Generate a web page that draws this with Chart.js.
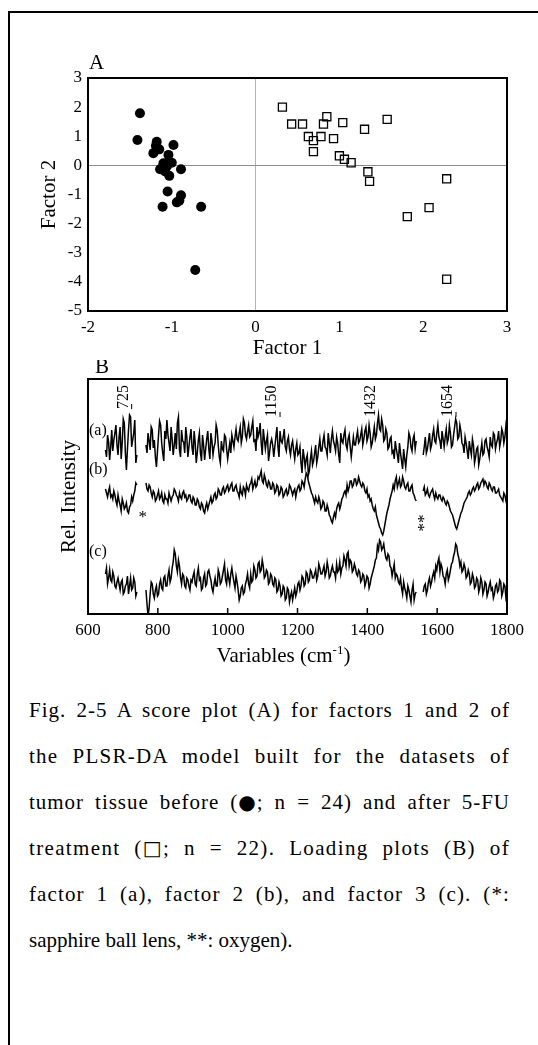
<!DOCTYPE html>
<html><head><meta charset="utf-8">
<script src="https://cdn.jsdelivr.net/npm/chart.js@4.4.0/dist/chart.umd.min.js"></script>
<style>
html,body{margin:0;padding:0;background:#fff;}
body{width:538px;height:1045px;position:relative;overflow:hidden;font-family:"Liberation Serif","Times New Roman",serif;color:#000;}
#frame{position:absolute;left:8px;top:11px;width:700px;height:1200px;border-left:2px solid #000;border-top:2px solid #000;}
#cA{position:absolute;left:0;top:0;}
#cB{position:absolute;left:0;top:360px;}
#cap{position:absolute;left:29px;top:687px;width:481px;font-size:21px;line-height:46px;}
#cap div{text-align:justify;text-align-last:justify;white-space:nowrap;}
#cap div.last{text-align-last:left;}
.sym{display:inline-block;font-family:"DejaVu Sans",sans-serif;font-size:20px;}
</style></head>
<body>
<div id="frame"></div>
<canvas id="cA" width="538" height="360"></canvas>
<canvas id="cB" width="538" height="320"></canvas>
<div id="cap">
<div>Fig. 2-5 A score plot (A) for factors 1 and 2 of</div>
<div>the PLSR-DA model built for the datasets of</div>
<div>tumor tissue before (<span class="sym">●</span>; n = 24) and after 5-FU</div>
<div>treatment (<span class="sym">□</span>; n = 22). Loading plots (B) of</div>
<div>factor 1 (a), factor 2 (b), and factor 3 (c). (*:</div>
<div class="last">sapphire ball lens, **: oxygen).</div>
</div>
<script>
// ---------- Panel A: score plot ----------
const beforeF1 = [-1.38,-1.41,-1.18,-1.19,-0.98,-1.15,-1.22,-1.04,-1.00,-1.10,-1.06,-1.14,-0.89,-1.08,-1.03,-1.11,-1.05,-0.89,-0.91,-0.94,-1.11,-0.65,-0.72,-1.07];
const beforeF2 = [1.79,0.87,0.81,0.67,0.70,0.55,0.42,0.36,0.09,0.07,-0.04,-0.13,-0.13,-0.21,-0.36,-0.08,-0.90,-1.03,-1.21,-1.27,-1.42,-1.42,-3.59,0.05];
const afterF1 = [0.32,0.43,0.56,0.81,0.85,1.04,1.30,1.57,0.63,0.69,0.78,0.93,0.69,1.00,1.06,1.14,1.34,1.36,2.28,2.07,1.81,2.28];
const afterF2 = [2.00,1.42,1.42,1.42,1.67,1.47,1.24,1.58,0.99,0.85,0.99,0.92,0.47,0.33,0.21,0.09,-0.22,-0.55,-0.46,-1.45,-1.76,-3.91];
const factor1Range = [-2, 3];
const factor2Range = [-5, 3];

// ---------- Panel B: loadings (sampled every 3 cm-1) ----------
const wavenumberSegments = [[650,740],[766,1540],[1560,1800]];
const wavenumberStep = 3;
const variableTicks = [600,800,1000,1200,1400,1600,1800];
const peakLabels = [725,1150,1432,1654];
const asteriskAt = [757,1556];
const asteriskText = ['*','**'];
const traceNames = ['(a)','(b)','(c)'];

const loading1 = [
-5,-12,10,3,-15,-2,15,-6,5,12,20,0,-10,8,18,-14,2,26,22,-8,-25,-4,15,30,28,-2,5,12,25,-18,-10,
0,-8,12,4,-5,18,15,-3,5,-12,-22,-6,10,24,20,2,-8,-16,14,6,
25,10,2,-6,18,6,-10,0,12,-4,22,28,-5,-12,15,4,3,-8,18,8,
-12,-2,8,16,-3,-10,14,2,-18,-8,5,12,-8,-16,10,0,-15,-4,6,14,
-4,-14,12,4,-10,-2,2,20,15,0,-12,-18,4,-4,-6,10,8,-4,-14,-6,
2,-8,10,4,-2,8,16,6,4,12,18,2,8,26,22,10,6,14,20,8,
10,18,24,4,5,-6,18,8,12,22,2,-10,16,6,-4,4,10,-16,-8,2,
6,0,-12,-2,8,18,-2,-12,14,4,2,8,16,-2,-6,4,8,-4,-10,0,
4,-6,-14,-4,2,-10,-8,-2,-18,-28,-4,-12,-22,-14,-10,-30,-26,-14,-6,-20,
-16,-8,0,-18,-12,-2,6,-6,-6,4,10,-2,-4,-10,12,2,-8,6,14,4,
0,-6,8,2,-10,-18,12,4,2,10,15,0,-4,6,10,-2,-12,-2,8,0,
0,8,14,2,4,10,16,0,6,14,18,4,8,20,12,-2,2,10,18,6,
10,22,30,16,14,26,20,4,6,16,12,-4,-2,6,8,-8,-6,-14,4,-4,
-10,-18,2,-8,-16,-24,-4,-14,-22,-10,-2,12,8,-2,-6,6,10,-4,4,
-10,-2,8,-8,-4,4,12,-4,0,10,16,4,2,12,20,8,4,-4,14,6,
-2,8,16,2,6,20,12,-2,0,10,18,26,22,6,8,20,14,2,0,-8,
8,2,-6,-14,4,-4,-10,6,0,-18,-12,-4,-2,-20,-14,-6,2,-10,-8,4,
6,-2,-6,-12,8,0,-2,12,10,-4,2,6,14,-2,4,16,12,2,8,20,
14];
const loading2 = [
4,0,-4,2,6,-4,-2,-6,2,-2,-8,-12,-2,-8,-12,-18,-6,-10,-16,-14,-10,-18,-20,-14,-12,-4,-8,-2,2,10,8,
10,4,2,8,6,0,-4,2,0,-8,-6,-2,2,-6,-4,0,-8,-10,-2,-6,
-6,-10,0,-4,-8,-4,-2,4,2,-2,-4,-8,0,-4,-6,0,2,-4,-2,-8,
-6,-2,-2,-8,-10,-4,-6,-12,-12,-6,-8,-14,-16,-10,-12,-18,-20,-14,-10,-16,
-12,-8,-4,-10,-8,-2,0,-6,-4,4,2,-2,-2,4,6,0,2,6,8,2,
4,8,10,2,2,6,8,2,0,-4,6,0,-2,6,4,-2,8,4,2,8,
10,14,4,8,12,6,8,16,14,18,22,12,10,18,14,8,6,12,10,4,
4,10,8,0,2,8,6,-2,0,6,4,-4,-2,2,4,-2,0,8,6,2,
-2,2,4,-4,2,6,8,2,4,12,10,6,14,20,18,12,8,4,0,-2,
-6,-10,-4,-8,-10,-4,-8,-16,-14,-8,-10,-18,-18,-12,-16,-22,-24,-28,-30,-24,
-20,-24,-16,-12,-10,-16,-12,-6,-4,0,2,-2,8,2,6,12,12,6,8,14,
14,8,10,16,12,8,6,10,8,2,0,4,-4,-2,-8,-6,-12,-16,-18,-14,
-22,-26,-30,-34,-36,-40,-42,-38,-32,-26,-20,-16,-12,-6,-2,2,8,4,12,16,
6,10,14,6,8,16,12,6,4,8,10,2,2,6,8,0,-2,-6,-8,
2,6,-2,0,4,-2,-4,0,2,4,-2,-6,0,-4,-6,-2,-2,-6,-8,-4,
-6,-10,-12,-8,-10,-14,-18,-20,-22,-26,-30,-34,-36,-32,-28,-24,-20,-18,-14,-10,
-8,-6,-4,0,2,-2,0,4,6,2,4,8,10,4,6,10,12,14,8,12,
10,6,4,10,8,4,2,6,6,0,0,2,4,-2,-4,-6,-8,0,-2,-8,
-12];
const loading3 = [
6,12,-4,2,10,0,-2,8,4,-6,-8,-2,2,-4,-10,-2,0,-14,-12,-6,-4,4,-14,-6,2,-10,-8,2,-2,-16,-12,
-10,-24,-36,-28,-14,-2,-4,-14,-18,-10,-6,-16,-14,-4,0,-8,-10,2,4,-6,
-6,4,10,-2,2,12,18,30,26,14,8,20,14,2,-4,6,4,-6,-8,2,
0,-6,-10,0,-2,4,8,-4,-6,6,12,0,2,-10,-8,2,6,-6,-4,8,
10,4,0,-8,-12,-4,2,-6,-6,10,6,-4,-2,4,10,16,0,-4,8,2,
-4,6,12,4,-2,-8,4,-2,-10,-20,-16,-8,-6,-14,-12,-4,0,6,-4,-8,
6,-2,0,14,10,2,4,16,18,8,10,20,14,2,4,10,8,-4,-2,6,
4,-4,-6,2,0,-12,-10,-2,-6,-16,-14,-6,-8,-20,-18,-8,-10,-22,-16,-12,
-20,-14,-8,-16,-12,-4,-2,-10,-6,4,2,-6,-4,8,6,-2,0,10,8,2,
2,6,10,0,4,16,12,6,6,10,14,4,8,18,12,2,4,10,14,8,
8,2,16,8,10,18,6,12,14,24,20,14,26,28,14,20,18,8,10,16,
12,6,4,10,8,-2,0,6,4,-6,-2,4,2,-8,-4,2,6,10,14,20,
22,34,30,40,38,30,32,36,28,22,20,26,24,14,12,4,10,16,2,6,
4,-2,-4,2,-8,-14,-2,-8,-12,-18,-6,-10,-16,-22,-10,-4,-20,-14,-12,
-12,-6,-4,-14,-10,-2,2,-6,-2,4,8,2,14,10,18,22,8,16,12,4,
2,-4,6,10,0,4,10,16,18,24,28,36,34,26,22,14,18,8,10,16,
12,2,4,10,6,-4,-2,6,2,-8,-6,2,0,-12,-8,2,-2,-14,-10,-2,
-4,-16,-12,-6,-2,-10,-8,-18,-14,-6,-4,-12,-10,0,-2,-16,-12,-4,-6,-18,
-14];

// ---------- styling ----------
const FONT = '"Liberation Serif","Times New Roman",serif';
const FAM = 'Liberation Serif';
Chart.defaults.font.family = FAM;
Chart.defaults.color = '#000';
const traceBaselines = [169, 121, 34];   // vertical stacking offsets (arbitrary units)
const intensityRange = [0, 235];

function toPoints(xs, ys){ return xs.map((x,i)=>({x:x, y:ys[i]})); }
function buildTrace(vals, offset){
  const pts = []; let i = 0;
  wavenumberSegments.forEach((s, si) => {
    for (let w = s[0]; w <= s[1]; w += wavenumberStep) { pts.push({x:w, y: vals[i++] + offset}); }
    if (si < wavenumberSegments.length - 1) pts.push({x:(s[1] + wavenumberSegments[si+1][0]) / 2, y:null});
  });
  return pts;
}
const plain = v => String(v);

const boxPlugin = {
  id:'box',
  afterDatasetsDraw(chart){
    const {ctx, chartArea:a} = chart;
    ctx.save(); ctx.strokeStyle = '#000'; ctx.lineWidth = 2;
    ctx.strokeRect(a.left, a.top, a.right - a.left, a.bottom - a.top);
    ctx.restore();
  }
};

const annotA = {
  id:'annotA',
  afterDraw(chart){
    const {ctx, chartArea:a} = chart;
    ctx.save(); ctx.fillStyle = '#000';
    ctx.font = '21px ' + FONT; ctx.textAlign = 'left'; ctx.textBaseline = 'alphabetic';
    ctx.fillText('A', a.left + 1, a.top - 9);
    ctx.textAlign = 'center'; ctx.textBaseline = 'middle';
    ctx.fillText('Factor 1', (a.left + a.right) / 2 - 10, a.bottom + 37);
    ctx.restore();
  }
};

new Chart(document.getElementById('cA'), {
  type:'scatter',
  data:{datasets:[
    {data: toPoints(beforeF1, beforeF2), pointStyle:'circle', pointRadius:5, backgroundColor:'#000', borderColor:'#000', borderWidth:0},
    {data: toPoints(afterF1, afterF2), pointStyle:'rect', pointRadius:5.7, backgroundColor:'rgba(0,0,0,0)', borderColor:'#000', borderWidth:1.3}
  ]},
  options:{
    responsive:false, animation:false, devicePixelRatio:1,
    layout:{padding:{left:0, top:78, right:31, bottom:0}},
    plugins:{legend:{display:false}, tooltip:{enabled:false}},
    scales:{
      x:{type:'linear', min:factor1Range[0], max:factor1Range[1],
        afterFit(s){ s.height = 49; },
        ticks:{stepSize:1, font:{family:FAM, size:17}, padding:6, color:'#000', callback:plain},
        grid:{drawTicks:false, lineWidth:1, color:c => (c.tick && c.tick.value === 0) ? '#b4b4b4' : 'rgba(0,0,0,0)'},
        border:{display:false}},
      y:{type:'linear', min:factor2Range[0], max:factor2Range[1],
        afterFit(s){ s.width = 88; },
        ticks:{stepSize:1, font:{family:FAM, size:17}, padding:6, color:'#000', callback:plain},
        grid:{drawTicks:false, lineWidth:1, color:c => (c.tick && c.tick.value === 0) ? '#8c8c8c' : 'rgba(0,0,0,0)'},
        border:{display:false},
        title:{display:true, text:'Factor 2', font:{family:FAM, size:21}, padding:{top:37, bottom:0}, color:'#000'}}
    }
  },
  plugins:[boxPlugin, annotA]
});

const annotB = {
  id:'annotB',
  afterDraw(chart){
    const {ctx, chartArea:a} = chart;
    const xs = chart.scales.x;
    ctx.save(); ctx.fillStyle = '#000'; ctx.strokeStyle = '#000';
    ctx.lineWidth = 1.5;
    variableTicks.forEach(v => {
      const p = xs.getPixelForValue(v);
      ctx.beginPath(); ctx.moveTo(p, a.bottom); ctx.lineTo(p, a.bottom - 6); ctx.stroke();
    });
    ctx.font = '21px ' + FONT; ctx.textAlign = 'left'; ctx.textBaseline = 'alphabetic';
    ctx.fillText('B', a.left + 7, a.top - 6);
    ctx.font = '16px ' + FONT;
    const bottoms = [30, 38, 38, 38];
    peakLabels.forEach((v, i) => {
      const p = xs.getPixelForValue(v);
      const yb = a.top + bottoms[i];
      ctx.save(); ctx.translate(p - 4, yb); ctx.rotate(-Math.PI / 2);
      ctx.textAlign = 'left'; ctx.textBaseline = 'alphabetic';
      ctx.fillText(String(v), 0, 0); ctx.restore();
      ctx.lineWidth = 1;
      ctx.beginPath(); ctx.moveTo(p, yb - 5); ctx.lineTo(p, yb); ctx.stroke();
    });
    ctx.textAlign = 'left'; ctx.textBaseline = 'middle';
    const ly = [52, 91, 173];
    traceNames.forEach((t, i) => ctx.fillText(t, a.left + 1, a.top + ly[i]));
    ctx.font = '17px ' + FONT;
    asteriskAt.forEach((v, i) => {
      const p = xs.getPixelForValue(v);
      if (asteriskText[i].length === 1) {
        ctx.textAlign = 'center'; ctx.textBaseline = 'alphabetic';
        ctx.fillText(asteriskText[i], p, a.top + 143);
      } else {
        ctx.save(); ctx.translate(p + 3, a.top + 144); ctx.rotate(-Math.PI / 2);
        ctx.textAlign = 'center'; ctx.textBaseline = 'middle';
        ctx.fillText(asteriskText[i], 0, 0); ctx.restore();
      }
    });
    const main = 'Variables (cm', sup = '-1', close = ')';
    ctx.font = '21px ' + FONT; const w1 = ctx.measureText(main).width, w3 = ctx.measureText(close).width;
    ctx.font = '13px ' + FONT; const w2 = ctx.measureText(sup).width;
    const total = w1 + w2 + w3;
    let x0 = (a.left + a.right) / 2 - 14 - total / 2;
    const yBase = a.bottom + 48;
    ctx.textAlign = 'left'; ctx.textBaseline = 'alphabetic';
    ctx.font = '21px ' + FONT; ctx.fillText(main, x0, yBase);
    ctx.font = '13px ' + FONT; ctx.fillText(sup, x0 + w1, yBase - 8);
    ctx.font = '21px ' + FONT; ctx.fillText(close, x0 + w1 + w2, yBase);
    ctx.restore();
  }
};

const traceStyle = {borderColor:'#000', borderWidth:1.5, pointRadius:0, spanGaps:false, tension:0, fill:false};
new Chart(document.getElementById('cB'), {
  type:'line',
  data:{datasets:[
    Object.assign({data: buildTrace(loading1, traceBaselines[0])}, traceStyle),
    Object.assign({data: buildTrace(loading2, traceBaselines[1])}, traceStyle),
    Object.assign({data: buildTrace(loading3, traceBaselines[2])}, traceStyle)
  ]},
  options:{
    responsive:false, animation:false, devicePixelRatio:1,
    layout:{padding:{left:0, top:19, right:31, bottom:0}},
    plugins:{legend:{display:false}, tooltip:{enabled:false}},
    scales:{
      x:{type:'linear', min:600, max:1800,
        afterFit(s){ s.height = 66; },
        afterBuildTicks(s){ s.ticks = variableTicks.map(v => ({value:v})); },
        ticks:{font:{family:FAM, size:17}, padding:6, color:'#000', callback:plain},
        grid:{display:false, drawTicks:false},
        border:{display:false}},
      y:{type:'linear', min:intensityRange[0], max:intensityRange[1],
        afterFit(s){ s.width = 88; },
        ticks:{display:false},
        grid:{display:false, drawTicks:false},
        border:{display:false},
        title:{display:true, text:'Rel. Intensity', font:{family:FAM, size:21}, padding:{top:57, bottom:0}, color:'#000'}}
    }
  },
  plugins:[boxPlugin, annotB]
});

// caption: share the justification slack between letters and word gaps
document.querySelectorAll('#cap div:not(.last)').forEach(d => {
  d.style.textAlignLast = 'left';
  const r = document.createRange(); r.selectNodeContents(d);
  const natural = r.getBoundingClientRect().width;
  d.style.textAlignLast = '';
  const n = d.textContent.trim().length;
  const extra = d.clientWidth - natural;
  if (extra > 0 && n > 1) d.style.letterSpacing = (0.5 * extra / n).toFixed(2) + 'px';
});
</script>
</body></html>
